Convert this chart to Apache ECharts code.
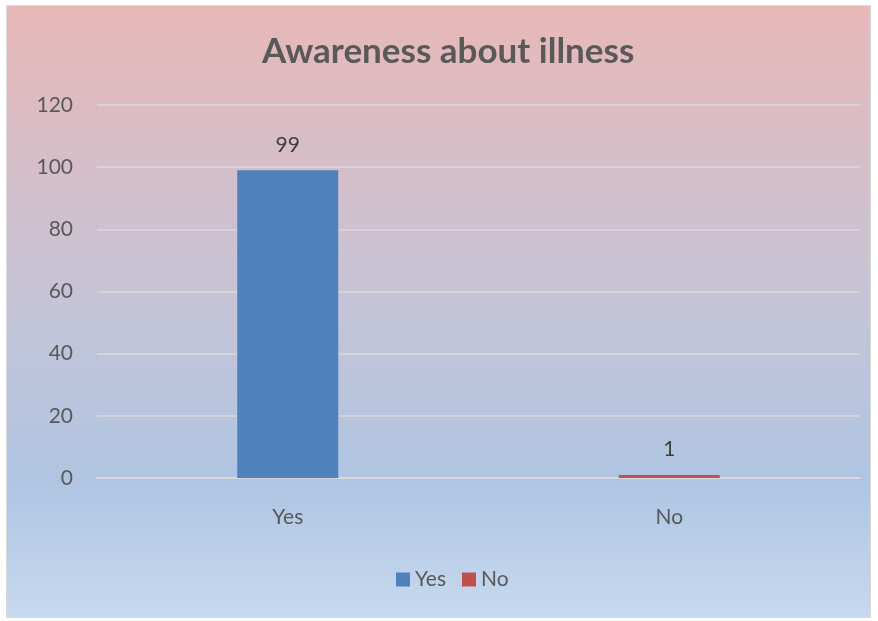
<!DOCTYPE html>
<html>
<head>
<meta charset="utf-8">
<style>html,body{margin:0;padding:0;}#c{width:878px;height:621px;}</style>
<script src="https://cdn.jsdelivr.net/npm/echarts@6/dist/echarts.min.js"></script>
</head>
<body>
<div id="c"></div>
<script>
const categories = ['Yes', 'No'];
const yesValues = [99, '-'];
const noValues = ['-', 1];
const yTicks = { min: 0, max: 120, interval: 20 };

const chart = echarts.init(document.getElementById('c'));
const font = 'Lato, "Open Sans", sans-serif';
chart.setOption({
  animation: false,
  backgroundColor: '#ffffff',
  graphic: [{
    type: 'rect', z: -10, silent: true,
    shape: { x: 6.5, y: 5.5, width: 864, height: 612 },
    style: {
      fill: new echarts.graphic.LinearGradient(0, 0, 0, 1, [
        { offset: 0, color: '#e8b8b8' },
        { offset: 0.5, color: '#c4c4d8' },
        { offset: 0.78, color: '#afc5e2' },
        { offset: 1, color: '#c7d9ef' }
      ]),
      stroke: '#d9d9d9', lineWidth: 1
    }
  }],
  title: {
    text: 'Awareness about illness', left: 257, top: 29,
    textStyle: { fontFamily: font, fontSize: 35, fontWeight: 'bold', color: '#595959' }
  },
  legend: {
    bottom: 26, left: 391, itemWidth: 14, itemHeight: 14, itemGap: 16,
    icon: 'rect',
    textStyle: { fontFamily: font, fontSize: 21, color: '#595959' },
    data: ['Yes', 'No']
  },
  grid: { left: 97, right: 18, top: 105, bottom: 143, containLabel: false },
  xAxis: {
    type: 'category', data: categories,
    axisLine: { lineStyle: { color: '#d9d9d9', width: 1.5 } },
    axisTick: { show: false },
    axisLabel: { fontFamily: font, fontSize: 21, color: '#595959', margin: 29 }
  },
  yAxis: {
    type: 'value', min: yTicks.min, max: yTicks.max, interval: yTicks.interval,
    axisLine: { show: false }, axisTick: { show: false },
    splitLine: { lineStyle: { color: '#d9d9d9', width: 1.5 } },
    axisLabel: { fontFamily: font, fontSize: 21, color: '#595959', margin: 24 }
  },
  series: [
    { name: 'Yes', type: 'bar', stack: 's', data: yesValues, barWidth: 101,
      itemStyle: { color: '#4f81bd' },
      label: { show: true, position: 'top', distance: 15, fontFamily: font, fontSize: 21, color: '#404040' } },
    { name: 'No', type: 'bar', stack: 's', data: noValues, barWidth: 101,
      itemStyle: { color: '#c0504d' },
      label: { show: true, position: 'top', distance: 15, fontFamily: font, fontSize: 21, color: '#404040' } }
  ]
});
</script>
</body>
</html>
